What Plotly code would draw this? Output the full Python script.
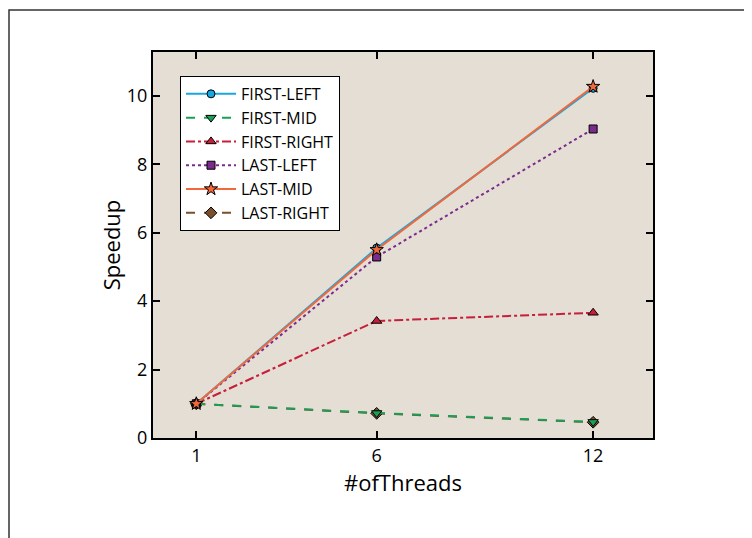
import plotly.graph_objects as go

threads = [1, 6, 12]
first_left = [1.0, 5.55, 10.22]
first_mid = [1.0, 0.73, 0.47]
first_right = [1.0, 3.42, 3.66]
last_left = [1.0, 5.29, 9.03]
last_mid = [1.0, 5.50, 10.27]
last_right = [1.0, 0.72, 0.46]

# name, values, colour, dash, symbol, size, legend rank
series = [
    ("FIRST-LEFT", first_left, "#1aa6e0", "solid", "circle", 8, 1),
    ("FIRST-MID", first_mid, "#1b9e55", "dash", "triangle-down", 9, 2),
    ("FIRST-RIGHT", first_right, "#c61f3a", "dashdot", "triangle-up", 9, 3),
    ("LAST-LEFT", last_left, "#7a2c8c", "dot", "square", 8, 4),
    ("LAST-MID", last_mid, "#f2683a", "solid", "star", 10, 5),
    ("LAST-RIGHT", last_right, "#7b4f2b", "dash", "diamond", 9, 6),
]
draw_order = ["LAST-RIGHT", "FIRST-MID", "FIRST-RIGHT", "LAST-LEFT", "FIRST-LEFT", "LAST-MID"]
by_name = {s[0]: s for s in series}

fig = go.Figure()
for nm in draw_order:
    name, vals, color, dash, sym, size, rank = by_name[nm]
    fig.add_trace(go.Scatter(
        x=threads, y=vals, name=name, mode="lines+markers", legendrank=rank,
        line=dict(color=color, width=2, dash=dash),
        marker=dict(symbol=sym, size=size, color=color,
                    line=dict(color="black", width=1)),
    ))

FONT = "Open Sans"
axis_common = dict(
    showline=True, linecolor="black", linewidth=2, mirror="ticks",
    ticks="inside", ticklen=7, tickwidth=2, tickcolor="black",
    showgrid=False, zeroline=False,
    tickfont=dict(family=FONT, size=18, color="black"),
)

L, T, W, H = 145, 44, 500, 386
fig.update_layout(
    width=752, height=538,
    margin=dict(l=L, r=752 - L - W, t=T, b=538 - T - H),
    paper_bgcolor="white",
    plot_bgcolor="#e4ded4",
    font=dict(family=FONT, color="black"),
    xaxis=dict(range=[-0.2, 13.66], tickvals=threads, ticktext=["1", "6", "12"],
               title=dict(text="#ofThreads", font=dict(family=FONT, size=22), standoff=4),
               **axis_common),
    yaxis=dict(range=[0, 11.28], tickvals=[0, 2, 4, 6, 8, 10],
               title=dict(text="Speedup", font=dict(family=FONT, size=22), standoff=0),
               **axis_common),
    legend=dict(x=0.054, y=0.938, xanchor="left", yanchor="top",
                bgcolor="white", bordercolor="black", borderwidth=1,
                font=dict(family=FONT, size=16, color="black"),
                itemwidth=50, tracegroupgap=0),
    shapes=[dict(type="rect", xref="paper", yref="paper",
                 x0=(1 - L) / W, x1=(742 - L) / W,
                 y0=-0.4, y1=(T + H - 2) / H,
                 line=dict(color="#333333", width=1.5), layer="below")],
)

fig.write_html("out.html")
